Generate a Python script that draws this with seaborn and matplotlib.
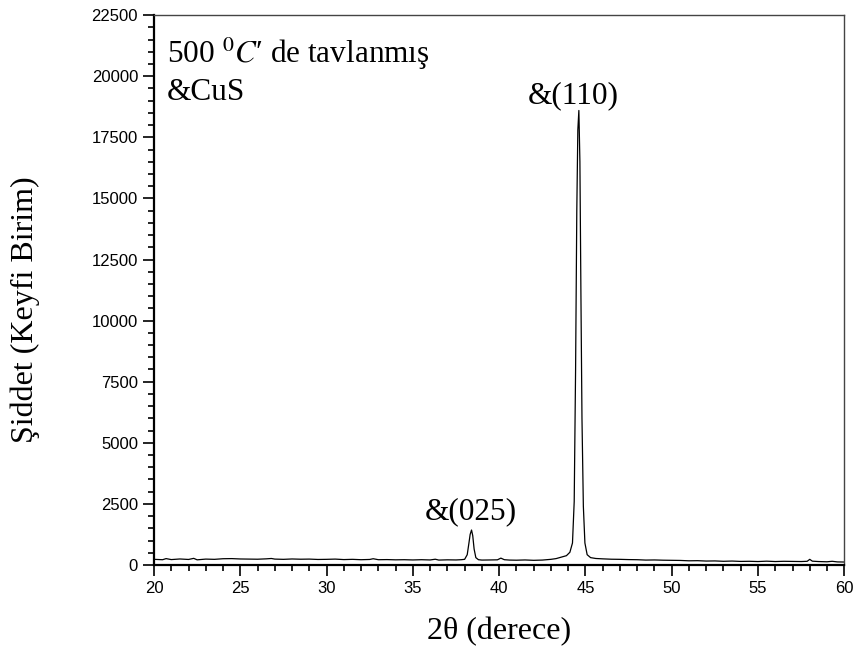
import matplotlib
matplotlib.use("Agg")
import matplotlib.pyplot as plt
import seaborn as sns
import pandas as pd
from matplotlib.ticker import MultipleLocator

# XRD scan of CuS film annealed at 500 C: 2-theta (deg) and counts
two_theta = [
    20.0, 20.5, 20.7, 21.0, 21.5, 22.0, 22.3, 22.5, 23.0, 23.5, 24.0, 24.5,
    25.0, 25.5, 26.0, 26.5, 26.8, 27.0, 27.5, 28.0, 28.5, 29.0, 29.5, 30.0,
    30.5, 31.0, 31.5, 32.0, 32.5, 32.7, 33.0, 33.5, 34.0, 34.5, 35.0, 35.5,
    36.0, 36.3, 36.5, 37.0, 37.5, 37.8, 38.0, 38.15, 38.25, 38.32, 38.4,
    38.47, 38.55, 38.65, 38.8, 39.0, 39.5, 39.9, 40.1, 40.3, 40.6, 41.0,
    41.5, 42.0, 42.5, 43.0, 43.3, 43.6, 43.9, 44.1, 44.25, 44.35, 44.43,
    44.5, 44.56, 44.62, 44.68, 44.74, 44.8, 44.88, 44.97, 45.1, 45.3, 45.6,
    46.0, 46.5, 47.0, 47.5, 48.0, 48.5, 49.0, 49.5, 50.0, 50.5, 51.0, 51.5,
    52.0, 52.5, 53.0, 53.5, 54.0, 54.5, 55.0, 55.5, 56.0, 56.5, 57.0, 57.5,
    57.85, 58.0, 58.15, 58.5, 59.0, 59.3, 59.6, 60.0,
]
intensity = [
    230, 215, 260, 220, 245, 225, 270, 210, 240, 230, 255, 260,
    245, 240, 235, 250, 265, 240, 230, 245, 235, 240, 225, 230,
    240, 220, 230, 215, 225, 255, 215, 220, 210, 215, 205, 215,
    205, 235, 200, 210, 205, 215, 230, 420, 900, 1250, 1430,
    1200, 650, 300, 215, 200, 205, 210, 280, 215, 200, 195,
    205, 190, 200, 230, 260, 320, 380, 520, 900, 2600, 8000,
    14500, 17800, 18600, 16500, 11000, 6000, 2400, 900, 420, 300, 265,
    250, 235, 230, 220, 215, 200, 205, 195, 190, 185, 170, 175,
    160, 165, 150, 160, 145, 150, 140, 155, 140, 150, 145, 140,
    150, 230, 155, 140, 130, 150, 125, 120,
]

df = pd.DataFrame({"two_theta": two_theta, "intensity": intensity})

sns.set_style("ticks")
plt.rcParams["font.family"] = ["Liberation Sans", "DejaVu Sans"]
plt.rcParams["mathtext.fontset"] = "stix"
plt.rcParams["text.color"] = "black"
plt.rcParams["axes.labelcolor"] = "black"

fig = plt.figure(figsize=(8.58, 6.60), dpi=100)
ax = fig.add_axes([0.1795, 0.144, 0.8045, 0.833])

sns.lineplot(data=df, x="two_theta", y="intensity", ax=ax,
             color="black", linewidth=0.9, estimator=None, sort=False)

ax.set_xlim(20, 60)
ax.set_ylim(0, 22500)
ax.xaxis.set_major_locator(MultipleLocator(5))
ax.xaxis.set_minor_locator(MultipleLocator(1))
ax.yaxis.set_major_locator(MultipleLocator(2500))
ax.yaxis.set_minor_locator(MultipleLocator(500))

ax.tick_params(which="major", direction="out", length=8, width=1.2,
               labelsize=12, colors="black", top=False, right=False)
ax.tick_params(which="minor", direction="out", length=4.5, width=1.2,
               colors="black", top=False, right=False)

for side in ("left", "bottom"):
    ax.spines[side].set_linewidth(1.6)
    ax.spines[side].set_color("black")
for side in ("top", "right"):
    ax.spines[side].set_visible(True)
    ax.spines[side].set_linewidth(1.0)
    ax.spines[side].set_color("#444444")

serif = ["Liberation Serif", "DejaVu Serif"]
ax.set_xlabel("2θ (derece)", fontsize=23, family=serif, labelpad=15,
              color="black")
ax.set_ylabel("Şiddet (Keyfi Birim)", fontsize=23, family=serif,
              color="black")
ax.yaxis.set_label_coords(-0.165, 0.465)

ax.text(0.019, 0.913, "500 $^{\\mathit{0}}C$′ de tavlanmış",
        transform=ax.transAxes, fontsize=22.5, family=serif,
        ha="left", va="baseline", color="black")
ax.text(0.019, 0.845, "&CuS", transform=ax.transAxes,
        fontsize=22.5, family=serif, ha="left", va="baseline", color="black")

peak_labels = ["&(025)", "&(110)"]
peak_pos = [38.4, 44.62]
peak_height = [1430, 18600]
label_offset = [450, 300]
label_shift = [-0.05, -0.3]
for lab, px, ph, off, sh in zip(peak_labels, peak_pos, peak_height,
                                label_offset, label_shift):
    ax.text(px + sh, ph + off, lab, fontsize=22.5, family=serif,
            ha="center", va="baseline", color="black")

fig.savefig("out.png", dpi=100)
